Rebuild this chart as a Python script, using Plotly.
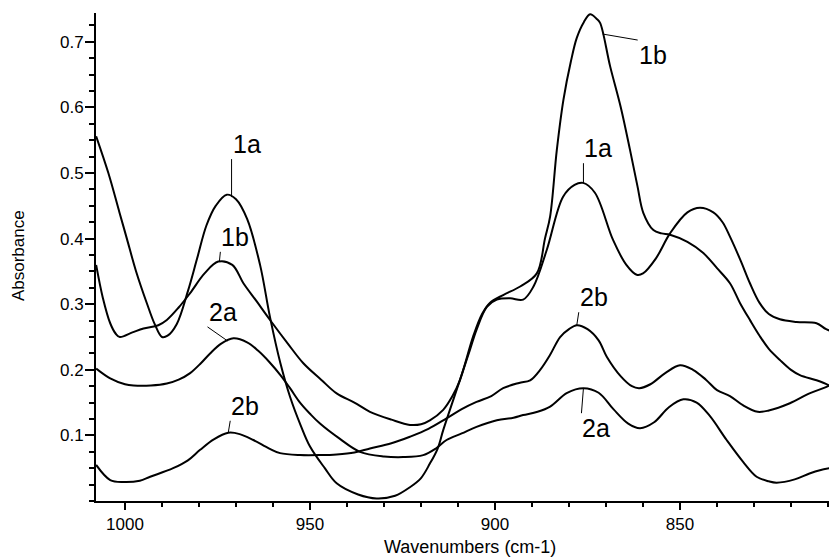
import numpy as np
import plotly.graph_objects as go

# ---- data ----
x_1a = [1007.8, 1004.5, 1001.5, 999.5, 997, 994, 992, 990, 988.5, 986, 983, 980.5, 978, 975.5, 972.5,
        970, 967, 963.5, 960.8, 958, 955.4, 952.5, 950, 946, 942.8, 937, 932, 927, 923, 920, 917.6,
        915.5, 914, 910.4, 906.8, 905, 902.2, 899.5, 895.9, 892.4, 889.6, 886, 881.6, 878.5, 876.2,
        873, 868.1, 864.5, 861.7, 860, 856.5, 852.7, 848, 844.6, 841, 838.5, 836.5, 833.5, 831.1,
        828.5, 826, 823, 818.5, 813.1, 810.5, 807.6]
y_1a = [0.556, 0.50, 0.44, 0.40, 0.35, 0.30, 0.27, 0.25, 0.252, 0.27, 0.32, 0.37, 0.42, 0.45, 0.467,
        0.46, 0.43, 0.36, 0.28, 0.21, 0.159, 0.115, 0.083, 0.05, 0.027, 0.01, 0.004, 0.008, 0.021, 0.035, 0.057,
        0.08, 0.108, 0.169, 0.230, 0.261, 0.296, 0.307, 0.309, 0.307, 0.327, 0.383, 0.464, 0.482, 0.485,
        0.47, 0.398, 0.36, 0.345, 0.347, 0.37, 0.408, 0.44, 0.447, 0.44, 0.425, 0.403, 0.365, 0.332,
        0.302, 0.285, 0.277, 0.273, 0.271, 0.262, 0.256]

x_1b = [1007.8, 1006, 1004, 1002.5, 1001.4, 998, 995, 991, 988.7, 985.5, 982.4, 978.5, 974.8, 971,
        968, 964.5, 960.8, 956, 951.8, 947, 942.8, 938, 933.8, 928, 923, 920, 917.6, 914, 911.5, 909.5,
        905.9, 903.5, 901.4, 897.8, 893.2, 888.7, 886.5, 885.1, 883.3, 881.5, 879.5, 877.9, 876,
        874.3, 872.5, 871.6, 868.9, 866, 863.5, 861.5, 859.9, 857.2, 855, 852.7, 848, 843.7, 840,
        836.5, 833.8, 831, 828.5, 826, 823, 820, 817.6, 813.1, 810, 807.6]
y_1b = [0.36, 0.31, 0.271, 0.255, 0.25, 0.257, 0.263, 0.268, 0.276, 0.295, 0.317, 0.347, 0.365, 0.36,
        0.332, 0.305, 0.276, 0.24, 0.21, 0.185, 0.164, 0.15, 0.136, 0.124, 0.116, 0.117, 0.123, 0.139, 0.16, 0.184,
        0.251, 0.285, 0.302, 0.314, 0.327, 0.347, 0.40, 0.434, 0.535, 0.612, 0.67, 0.706, 0.73,
        0.742, 0.735, 0.729, 0.663, 0.60, 0.535, 0.48, 0.439, 0.413, 0.408, 0.406, 0.395, 0.378, 0.355,
        0.332, 0.302, 0.275, 0.252, 0.232, 0.215, 0.2, 0.192, 0.184, 0.177, 0.169]

x_2a = [1007.8, 1004, 1000, 997.7, 993, 988.7, 985.5, 982.4, 979.5, 977, 974, 970.7, 967, 964,
        961, 958, 955.4, 952.7, 950, 947.3, 942, 936.5, 930, 924.8, 919.4, 916, 913.1, 909, 905, 899.5,
        895, 892.4, 888.5, 885.1, 880.5, 876.1, 872, 868, 864, 860.8, 857, 853, 849.1, 845.5, 842,
        837.4, 833, 829.3, 826, 823.9, 819, 815, 812.2, 807.6]
y_2a = [0.202, 0.187, 0.178, 0.176, 0.176, 0.179, 0.185, 0.195, 0.21, 0.225, 0.24, 0.248, 0.242, 0.229,
        0.212, 0.192, 0.172, 0.15, 0.133, 0.118, 0.095, 0.075, 0.068, 0.067, 0.07, 0.08, 0.093, 0.103, 0.113, 0.123,
        0.127, 0.131, 0.136, 0.144, 0.165, 0.172, 0.165, 0.14, 0.118, 0.111, 0.12, 0.143, 0.155, 0.15, 0.13,
        0.093, 0.06, 0.037, 0.03, 0.028, 0.033, 0.042, 0.047, 0.052]

x_2b = [1007.8, 1004, 1000.4, 996, 993.2, 987, 983, 979.7, 976, 972.1, 969, 965.3, 961, 958.1,
        952.7, 947, 942.8, 938, 933.8, 928, 923, 918, 913.1, 909, 905, 901, 897.8, 893.5, 890.5,
        887.8, 885.1, 882.4, 880, 877.9, 875, 872, 869.8, 866, 863, 861, 858, 854, 850, 846.5, 843,
        840, 836.5, 833, 829, 826, 820.3, 815, 810.4, 807.6]
y_2b = [0.055, 0.032, 0.029, 0.031, 0.037, 0.05, 0.062, 0.078, 0.094, 0.104, 0.102, 0.093, 0.08, 0.073,
        0.07, 0.07, 0.071, 0.074, 0.08, 0.088, 0.098, 0.11, 0.126, 0.14, 0.151, 0.16, 0.172, 0.18, 0.184,
        0.2, 0.223, 0.25, 0.262, 0.268, 0.262, 0.245, 0.22, 0.19, 0.175, 0.172, 0.178, 0.195, 0.207, 0.2, 0.185,
        0.169, 0.16, 0.146, 0.136, 0.138, 0.149, 0.164, 0.174, 0.182]

x_ticks = [1000, 950, 900, 850]
y_ticks = [0.1, 0.2, 0.3, 0.4, 0.5, 0.6, 0.7]

series = {"1a": (x_1a, y_1a), "1b": (x_1b, y_1b), "2a": (x_2a, y_2a), "2b": (x_2b, y_2b)}

# label text, series, wavenumber of leader-line foot
label_text = ["1a", "1b", "2a", "2b", "1b", "1a", "2b", "2a"]
label_series = ["1a", "1b", "2a", "2b", "1b", "1a", "2b", "2a"]
label_at = [971.2, 974.5, 972.3, 972.1, 870.9, 876.1, 877.9, 876.1]

# ---- styling ----
FONT = "Liberation Sans, Arial, sans-serif"
label_offsets = [(0, -38, "bottom"), (1, -10, "bottom"), (-20, -14, "bottom"), (2, -12, "bottom"),
                 (35, 6, "top"), (0, -20, "bottom"), (2, -13, "bottom"), (-2, 25, "top")]

# the page body has an 8px default margin: size the figure so the plot lands on the reference pixels
PAGE_OFF = 8

fig = go.Figure()
for name, (xs, ys) in series.items():
    fig.add_trace(go.Scatter(x=xs, y=ys, mode="lines", name=name,
                             line=dict(color="black", width=2, shape="spline", smoothing=1.0),
                             showlegend=False, hoverinfo="skip"))

annotations = []
for txt, s, xa, (ax, ay, ya) in zip(label_text, label_series, label_at, label_offsets):
    xs, ys = series[s]
    yv = float(np.interp(xa, xs[::-1], ys[::-1]))
    annotations.append(dict(x=xa, y=yv, xref="x", yref="y", text=txt, showarrow=True,
                            ax=ax, ay=ay, arrowhead=0, arrowwidth=1, arrowcolor="black",
                            standoff=0, startstandoff=0, xanchor="left", yanchor=ya,
                            borderpad=0,
                            font=dict(family=FONT, size=25, color="black")))

annotations.append(dict(text="Wavenumbers (cm-1)", xref="paper", yref="paper", x=0.505, y=0,
                        xanchor="center", yanchor="middle", yshift=-46, showarrow=False,
                        font=dict(family=FONT, size=18, color="black")))
annotations.append(dict(text="Absorbance", xref="paper", yref="paper", x=0, y=0.503,
                        xanchor="center", yanchor="middle", xshift=-77.5, textangle=-90,
                        showarrow=False, font=dict(family=FONT, size=17, color="black")))

fig.update_layout(
    width=837 - PAGE_OFF, height=557 - PAGE_OFF,
    margin=dict(l=96 - PAGE_OFF, r=0, t=13 - PAGE_OFF, b=56),
    paper_bgcolor="white", plot_bgcolor="white",
    annotations=annotations,
    font=dict(family=FONT, size=17, color="black"),
)
fig.update_xaxes(range=[1007.84, 807.57], autorange=False, tickvals=x_ticks, ticks="outside",
                 ticklen=7, tickwidth=1.5, tickcolor="black", showline=True, linewidth=2,
                 linecolor="black", showgrid=False, zeroline=False, automargin=False,
                 minor=dict(dtick=10, tick0=1000, ticks="outside", ticklen=4, tickcolor="black", showgrid=False),
                 tickfont=dict(family=FONT, size=17, color="black"))
fig.update_yaxes(range=[0, 0.744], autorange=False, tickvals=y_ticks, ticks="outside",
                 ticklen=9, tickwidth=1.5, tickcolor="black", showline=True, linewidth=2,
                 linecolor="black", showgrid=False, zeroline=False, automargin=False,
                 ticklabelstandoff=-2,
                 minor=dict(dtick=0.025, tick0=0, ticks="outside", ticklen=5, tickcolor="black", showgrid=False),
                 tickfont=dict(family=FONT, size=17, color="black"))

fig.write_html("out.html")
